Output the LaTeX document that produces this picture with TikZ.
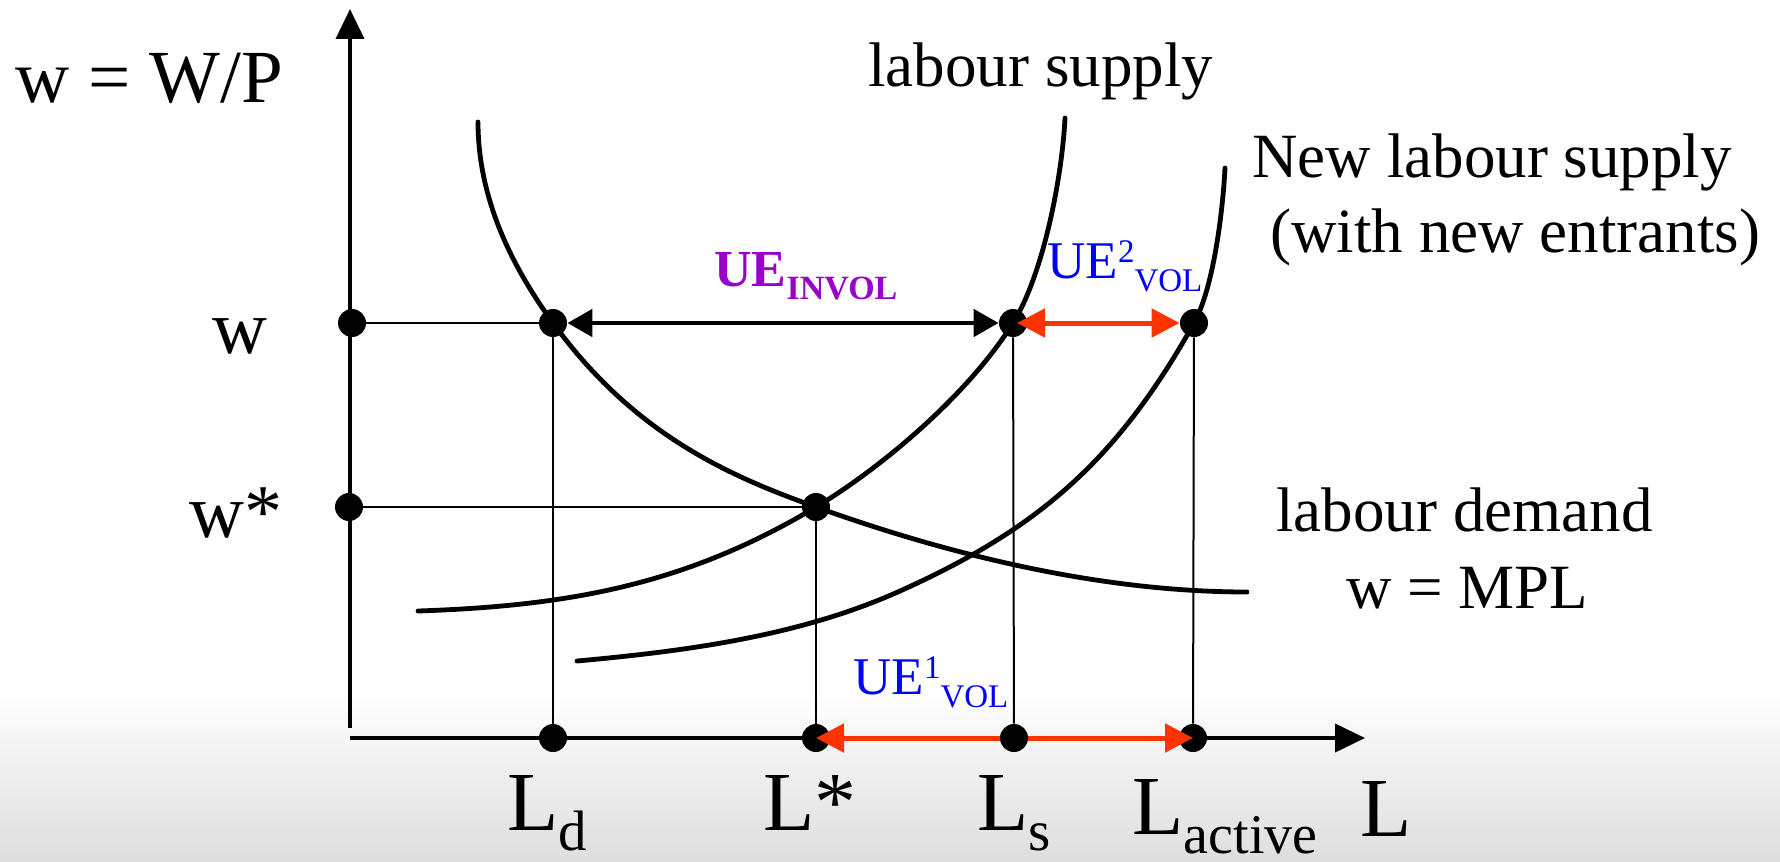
\documentclass[tikz,border=0pt]{standalone}
\usepackage{fontspec}
\setmainfont{Liberation Serif}
\usetikzlibrary{arrows.meta}
\definecolor{uered}{RGB}{255,51,0}
\definecolor{uepurple}{RGB}{153,0,204}
\definecolor{ueblue}{RGB}{0,0,255}
\newcommand\myfs[1]{\fontsize{#1}{#1}\selectfont}
\newcommand\mysub[1]{\raisebox{-10pt}[0pt][0pt]{\myfs{28.5pt}#1}}
\tikzset{
  dot/.style={circle, fill=black, inner sep=0pt, minimum size=14pt},
  axis/.style={line width=2pt, -{Triangle[length=15pt,width=14pt]}},
  curve/.style={line width=2.4pt, line cap=round, line join=round},
  guide/.style={line width=1pt},
  blackarr/.style={line width=2.4pt, {Triangle[length=12.5pt,width=13.5pt]}-{Triangle[length=12.5pt,width=13.5pt]}},
  redarr/.style={draw=uered, line width=2.5pt, {Triangle[length=14pt,width=14pt]}-{Triangle[length=14pt,width=14pt]}},
  txt/.style={inner sep=0pt, anchor=base west, font=\myfs{31.5pt}},
  big/.style={txt, font=\myfs{38pt}},
  axl/.style={txt, font=\myfs{42pt}}
}
\begin{document}
\begin{tikzpicture}[x=0.5pt,y=-0.5pt]
\useasboundingbox (0,0) rectangle (1780,861);
\shade[top color=white, bottom color=black!13] (0,690) rectangle (1780,861);

% labour demand
\draw[curve] (478,122) .. controls (478,200) and (513,268) .. (553,323)
  .. controls (633,433) and (726,475) .. (816,507)
  .. controls (944,553) and (1097,592) .. (1247,592);
% labour supply
\draw[curve] (418,611) .. controls (568,606) and (686,585) .. (816,507)
  .. controls (881,468) and (968,395) .. (1013,323)
  .. controls (1043,275) and (1062,178) .. (1065,118);
% new labour supply
\draw[curve] (577,661) .. controls (687,651) and (800,636) .. (900,591)
  .. controls (1030,532.5) and (1114,467) .. (1194,323)
  .. controls (1214,287) and (1223,208) .. (1225,168);

% axes
\coordinate (ybot) at (350,728);
\coordinate (ytop) at (350,9);
\coordinate (xl) at (350,738);
\coordinate (xr) at (1365,738);
\draw[axis] (ybot) -- (ytop);
\draw[axis] (xl) -- (xr);

% dots
\node[dot] (wA) at (352,323) {};
\node[dot] (dA) at (553,323) {};
\node[dot] (sA) at (1013,323) {};
\node[dot] (aA) at (1194,323) {};
\node[dot] (wB) at (349,507) {};
\node[dot] (eq) at (816,507) {};
\node[dot] (dB) at (553,738) {};
\node[dot] (eqB) at (816,738) {};
\node[dot] (aB) at (1193,738) {};

% guides
\draw[guide] (wA) -- (dA);
\draw[guide] (wB) -- (eq);
\draw[guide] (dA) -- (dB);
\draw[guide] (eq) -- (eqB);
\draw[guide] (aA) -- (aB);

% arrows
\draw[blackarr] (dA) -- (sA);
\draw[redarr] ([xshift=2pt]sA.center) -- (aA.west);
\draw[redarr] (eqB.center) -- (aB.center);
\node[dot] (sB) at (1014,738) {};
\draw[guide] (sA) -- (sB);

% labels
\node[txt, font=\myfs{37.5pt}] (wp) at (15,103) {w = W/P};
\node[big] (wlab) at (212,353) {w};
\node[big] (wslab) at (189,537) {w*};
\node[axl] (Ld) at (507,830) {L\mysub{d}};
\node[axl] (Lst) at (763,830) {L*};
\node[axl] (Ls) at (977,830) {L\mysub{s}};
\node[axl] (La) at (1132,834) {L\raisebox{-9.5pt}[0pt][0pt]{\myfs{28pt}active}};
\node[axl] (L) at (1360,836) {L};

\node[txt] (ls) at (868,87) {labour supply};
\node[txt] (nls1) at (1252,177) {New labour supply};
\node[txt] (nls2) at (1270,252) {(with new entrants)};
\node[txt] (ld1) at (1276,531) {labour demand};
\node[txt] (ld2) at (1346,608) {w = MPL};

\node[txt, text=uepurple, font=\bfseries\myfs{26pt}] (ueinv) at (714,286) {UE\raisebox{-6.5pt}{\myfs{17pt}INVOL}};
\node[txt, text=ueblue, font=\myfs{26.5pt}] (ue2) at (1047,278) {UE\raisebox{8pt}{\myfs{16.5pt}2}\raisebox{-6.5pt}{\myfs{16.5pt}VOL}};
\node[txt, text=ueblue, font=\myfs{26.5pt}] (ue1) at (853,694) {UE\raisebox{8pt}{\myfs{16.5pt}1}\raisebox{-6.5pt}{\myfs{16.5pt}VOL}};
\end{tikzpicture}
\end{document}
